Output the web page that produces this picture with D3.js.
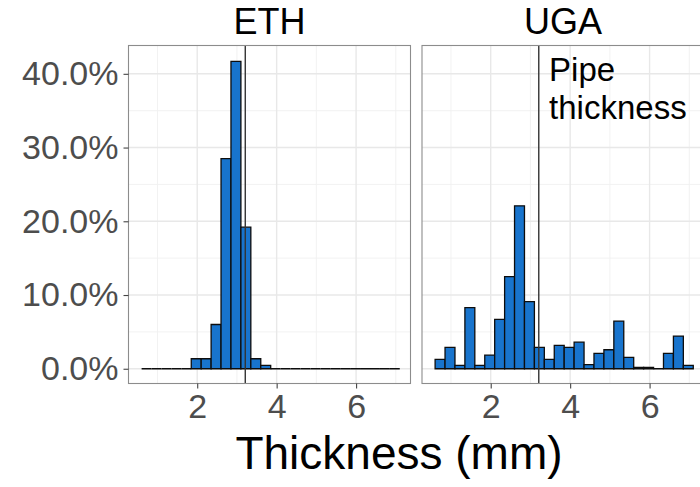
<!DOCTYPE html>
<html>
<head>
<meta charset="utf-8">
<script src="https://cdn.jsdelivr.net/npm/d3@7"></script>
<style>
body { margin: 0; background: #fff; }
text { font-family: "Liberation Sans", Arial, sans-serif; }
</style>
</head>
<body>
<script>
// histogram bins, lower edge in mm (binwidth 0.25)
var binLo = [0.60, 0.85, 1.10, 1.35, 1.60, 1.85, 2.10, 2.35, 2.60, 2.85, 3.10, 3.35, 3.60,
             3.85, 4.10, 4.35, 4.60, 4.85, 5.10, 5.35, 5.60, 5.85, 6.10, 6.35, 6.60, 6.85];
var binW = 0.25;

// share of samples per bin (%)
var ethPct = [0, 0, 0, 0, 0, 1.36, 1.36, 6.0, 28.5, 41.7, 19.2, 1.36, 0.45,
              0, 0, 0, 0, 0, 0, 0, 0, 0, 0, 0, 0, 0];
var ugaPct = [1.27, 2.9, 0.45, 8.3, 0.45, 1.85, 6.7, 12.5, 22.1, 9.1, 2.9, 1.27, 3.16,
              2.9, 3.6, 0.55, 2.08, 2.58, 6.46, 1.54, 0.2, 0.2, 0, 2.08, 4.43, 0.45];

var panels = ["ETH", "UGA"];
var xTicks = [2, 4, 6];
var xMinor = [1, 3, 5, 7];
var yTicks = [0, 0.1, 0.2, 0.3, 0.4];
var yMinor = [0.05, 0.15, 0.25, 0.35];

var pipeThickness = 3.21;
var noteLines = ["Pipe", "thickness"];
var noteAt = { x: 3.47, y: 0.39 };

// canvas (note: "top" is taken by window.top, so use other names)
var W = 700, H = 487;
var panelLeft = 128.5, panelTop = 45.5, pw = 282, ph = 338, gap = 11.5;

var x = d3.scaleLinear().domain([0.27, 7.37]).range([0, pw]);
var y = d3.scaleLinear().domain([-0.02, 0.4384]).range([ph, 0]);

var svg = d3.select("body").append("svg")
    .attr("width", W)
    .attr("height", H);

var series = [ethPct, ugaPct];

panels.forEach(function (name, i) {
    var px = panelLeft + i * (pw + gap);
    var g = svg.append("g")
        .attr("transform", "translate(" + px + "," + panelTop + ")");

    // minor grid
    g.selectAll(".ymin").data(yMinor).enter().append("line")
        .attr("x1", 0).attr("x2", pw)
        .attr("y1", function (d) { return y(d); })
        .attr("y2", function (d) { return y(d); })
        .style("stroke", "#F0F0F0").style("stroke-width", 0.9);
    g.selectAll(".xmin").data(xMinor).enter().append("line")
        .attr("y1", 0).attr("y2", ph)
        .attr("x1", function (d) { return x(d); })
        .attr("x2", function (d) { return x(d); })
        .style("stroke", "#F0F0F0").style("stroke-width", 0.9);

    // major grid
    g.selectAll(".ymaj").data(yTicks).enter().append("line")
        .attr("x1", 0).attr("x2", pw)
        .attr("y1", function (d) { return y(d); })
        .attr("y2", function (d) { return y(d); })
        .style("stroke", "#E8E8E8").style("stroke-width", 1.4);
    g.selectAll(".xmaj").data(xTicks).enter().append("line")
        .attr("y1", 0).attr("y2", ph)
        .attr("x1", function (d) { return x(d); })
        .attr("x2", function (d) { return x(d); })
        .style("stroke", "#E8E8E8").style("stroke-width", 1.4);

    // bars (path so empty bins still draw a line)
    var bins = binLo.map(function (lo, k) { return { lo: lo, v: series[i][k] / 100 }; });
    g.selectAll(".bar").data(bins).enter().append("path")
        .attr("d", function (d) {
            var x0 = x(d.lo), x1 = x(d.lo + binW), y0 = y(0), y1 = y(d.v);
            return "M" + x0 + "," + y0 + "V" + y1 + "H" + x1 + "V" + y0 + "Z";
        })
        .style("fill", "#1874CD")
        .style("stroke", "#0d0d0d")
        .style("stroke-width", 1.3);

    // pipe thickness line
    g.append("line")
        .attr("x1", x(pipeThickness)).attr("x2", x(pipeThickness))
        .attr("y1", 0).attr("y2", ph)
        .style("stroke", "#333").style("stroke-width", 1.4);

    // panel border
    g.append("rect")
        .attr("width", pw).attr("height", ph)
        .style("fill", "none")
        .style("stroke", "#8C8C8C").style("stroke-width", 1.1);

    // strip label
    svg.append("text")
        .attr("x", px + pw / 2)
        .attr("y", 34)
        .attr("text-anchor", "middle")
        .style("font-size", "36px")
        .style("fill", "#000")
        .text(name);

    // x axis
    var xa = g.append("g")
        .attr("transform", "translate(0," + ph + ")")
        .call(d3.axisBottom(x).tickValues(xTicks).tickSize(5).tickPadding(5));
    xa.select(".domain").remove();
    xa.selectAll("line").style("stroke", "#444").style("stroke-width", 1.1);
    xa.selectAll("text").style("font-size", "34px").style("fill", "#4D4D4D")
        .style("font-family", "'Liberation Sans', Arial, sans-serif");

    if (i === 0) {
        var ya = g.append("g")
            .call(d3.axisLeft(y).tickValues(yTicks).tickFormat(d3.format(".1%")).tickSize(5).tickPadding(5));
        ya.select(".domain").remove();
        ya.selectAll("line").style("stroke", "#444").style("stroke-width", 1.1);
        ya.selectAll("text").style("font-size", "34px").style("fill", "#4D4D4D")
            .style("font-family", "'Liberation Sans', Arial, sans-serif");
    } else {
        // annotation
        g.append("text")
            .attr("x", x(noteAt.x))
            .attr("y", y(noteAt.y))
            .style("font-size", "33px")
            .style("fill", "#000")
            .selectAll("tspan").data(noteLines).enter().append("tspan")
            .attr("x", x(noteAt.x))
            .attr("dy", function (d, k) { return k === 0 ? 0 : 38; })
            .text(function (d) { return d; });
    }
});

// x-axis title
svg.append("text")
    .attr("x", 399)
    .attr("y", 469)
    .attr("text-anchor", "middle")
    .style("font-size", "46px")
    .style("fill", "#000")
    .text("Thickness (mm)");
</script>
</body>
</html>
